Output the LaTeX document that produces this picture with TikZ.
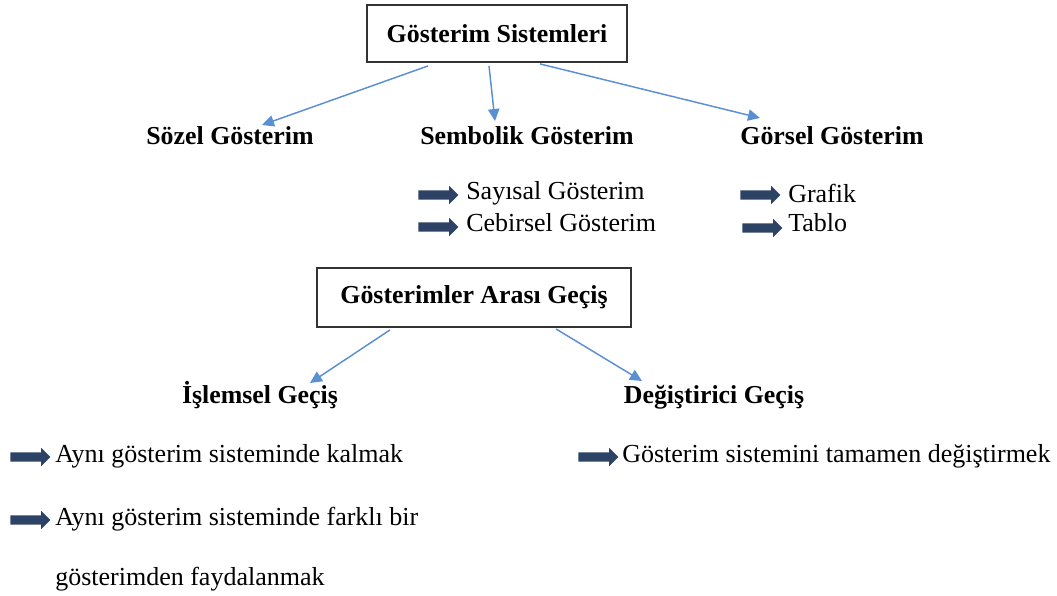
\documentclass[tikz,border=0pt]{standalone}
\usepackage{fontspec}
\setmainfont{Liberation Serif}
\usetikzlibrary{arrows.meta,shapes.arrows,calc}
\definecolor{linkblue}{HTML}{5B8FD4}
\definecolor{navy}{HTML}{2C4366}
\definecolor{boxline}{HTML}{333333}
\tikzset{
  titlebox/.style={draw=boxline,line width=1.4pt,fill=white,font=\fontsize{19.4}{23}\selectfont\bfseries,inner sep=0pt},
  head/.style={font=\fontsize{19.4}{23}\selectfont\bfseries,inner sep=0pt},
  item/.style={font=\fontsize{19.5}{23}\selectfont,inner sep=0pt,anchor=west},
  conn/.style={draw=linkblue,line width=1.1pt,-{Triangle[length=9pt,width=8.5pt]}},
  blockarrow/.style={single arrow,fill=navy,draw=none,inner xsep=0pt,inner ysep=3.2pt,
    single arrow head extend=3.4pt,single arrow head indent=0pt,minimum height=30pt,anchor=west},
}
\begin{document}
\begin{tikzpicture}[x=0.75pt,y=-0.75pt]
\useasboundingbox (0,0) rectangle (1057,596);
% top box
\node[titlebox,minimum width=195pt,minimum height=42.75pt] (b1) at (497,33.5) {Gösterim Sistemleri};
\node[head] (soz) at (230,136) {Sözel Gösterim};
\node[head] (sem) at (527,136) {Sembolik Gösterim};
\node[head] (gor) at (832,136) {Görsel Gösterim};
\draw[conn] ($(b1.south)+(-69,3)$) -- ($(soz.center)+(32,-11)$);
\draw[conn] ($(b1.south)+(-8,3)$) -- ($(sem.center)+(-32,-15)$);
\draw[conn] ($(b1.south)+(43,1)$) -- ($(gor.center)+(-72,-18)$);
% sembolik items
\node[blockarrow] (a1) at (418,195) {};
\node[item] (t1) at (466,193) {Sayısal Gösterim};
\node[blockarrow] (a2) at (418,227) {};
\node[item] (t2) at (466,223) {Cebirsel Gösterim};
% gorsel items
\node[blockarrow] (a3) at (740,195) {};
\node[item] (t3) at (788,193) {Grafik};
\node[blockarrow] (a4) at (742,228) {};
\node[item] (t4) at (788,223) {Tablo};
% second box
\node[titlebox,minimum width=235.5pt,minimum height=44.25pt] (b2) at (474,297.5) {Gösterimler Arası Geçiş};
\node[head] (isl) at (260,395) {İşlemsel Geçiş};
\node[head] (deg) at (714,397) {Değiştirici Geçiş};
\draw[conn] ($(b2.south)+(-84,2)$) -- ($(isl.center)+(50,-12)$);
\draw[conn] ($(b2.south)+(82,1)$) -- ($(deg.center)+(-72,-16)$);
% islemsel items
\node[blockarrow] (a5) at (10,457) {};
\node[item] (t5) at (55,456) {Aynı gösterim sisteminde kalmak};
\node[blockarrow] (a6) at (10,520) {};
\node[item] (t6) at (55,519) {Aynı gösterim sisteminde farklı bir};
\node[item] (t7) at (55,579) {gösterimden faydalanmak};
% degistirici items
\node[blockarrow] (a7) at (578,457) {};
\node[item] (t8) at (622,456) {Gösterim sistemini tamamen değiştirmek};
\end{tikzpicture}
\end{document}
